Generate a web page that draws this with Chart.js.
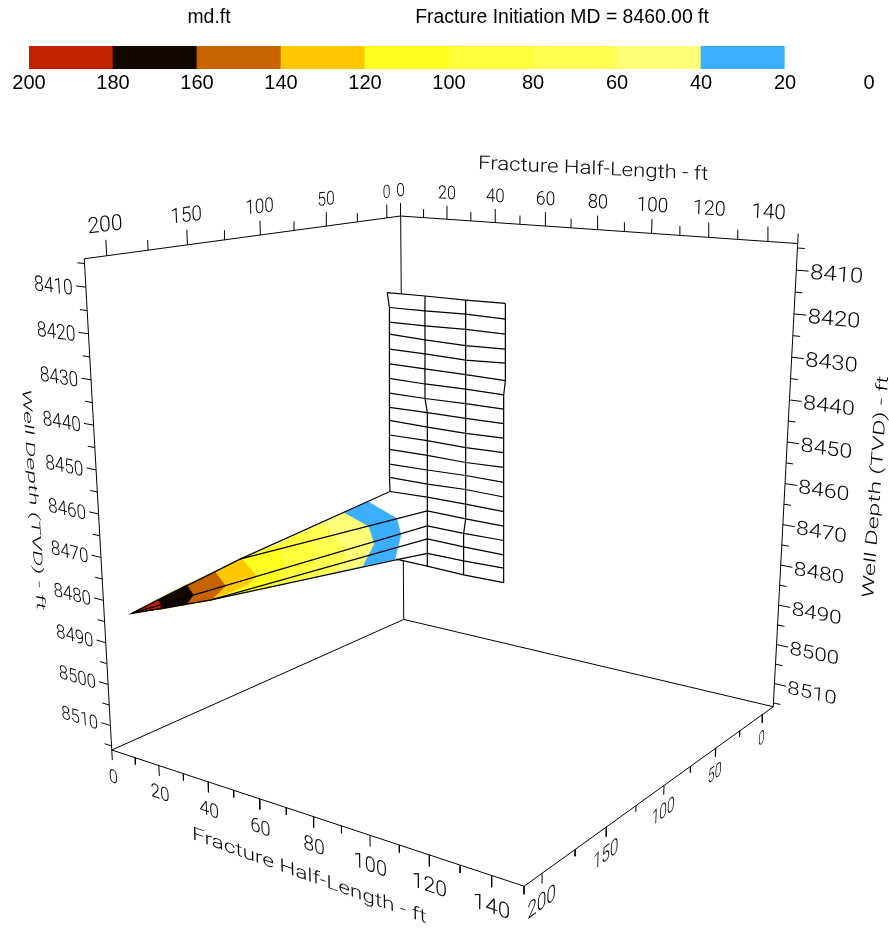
<!DOCTYPE html>
<html>
<head>
<meta charset="utf-8">
<title>Fracture width</title>
<script src="https://cdn.jsdelivr.net/npm/chart.js@4"></script>
<style>
    body { margin: 0; background: #fff; }
    canvas { position: absolute; left: 0; top: 0; }
</style>
</head>
<body>
<canvas id="box" width="889" height="929"></canvas>
<canvas id="legend" width="889" height="100"></canvas>
<script>
// colour legend, low to high
const bandValues = [20, 20, 20, 20, 20, 20, 20, 20, 20, 20];
const bandColors = ['#FFFFFF', '#3CAEFF', '#FFFF78', '#FFFF50', '#FFFF3C', '#FFFF1E', '#FFC800', '#C86400', '#130800', '#C12200'];

// axes, in feet
const halfLengthRange = [0, 150];
const widthRange = [-12, 213];
const depthRange = [8404, 8516];
const halfLengthMajor = [0, 20, 40, 60, 80, 100, 120, 140];
const halfLengthMinor = [10, 30, 50, 70, 90, 110, 130, 150];
const widthMajor = [0, 50, 100, 150, 200];
const widthMinor = [25, 75, 125, 175];
const depthMajor = [8410, 8420, 8430, 8440, 8450, 8460, 8470, 8480, 8490, 8500, 8510];
const depthMinor = [8405, 8415, 8425, 8435, 8445, 8455, 8465, 8475, 8485, 8495, 8505, 8515];

// fracture mesh, one list per column of the grid, top row first
const meshHalfLengths = [
    [-0.2, 0.7, 0.6, 0.6, 0.6, 0.5, 0.4, 0.4, 0.3, 0.2, 0.2, 0.1, 0.1, 0, 1.2, -1.2, -2.9, -5.4, 12.7, 12.7],
    [16.3, 16.2, 16.2, 16.2, 16.2, 16.1, 16.1, 16.1, 17.1, 17.1, 17, 17, 17, 17, 16.9, 16.9, 16.9, 16.9, 16.9, 16.8],
    [33.4, 33.5, 33.5, 33.5, 33.5, 33.5, 33.5, 33.5, 33.6, 33.6, 33.6, 33.6, 33.6, 33.6, 33.6, 33.7, 32.8, 32.8, 32.8, 32.8],
    [49.7, 49.7, 49.8, 49.8, 49.9, 49.9, 49.3, 49.3, 49.4, 49.4, 49.5, 49.5, 49.6, 49.6, 49.7, 49.7, 49.8, 49.8, 49.9, 49.9]
];
const meshDepths = [
    [8423.5, 8427.4, 8431.3, 8434.5, 8438.5, 8442.5, 8446.4, 8450.4, 8454.3, 8457.9, 8461.9, 8465.9, 8470, 8473.7, 8477.3, 8482.1, 8486.4, 8491.2, 8492.9, 8492.7],
    [8423.4, 8427.3, 8431.2, 8434.9, 8438.6, 8442.6, 8446.6, 8450.5, 8454.2, 8458.1, 8461.8, 8465.8, 8469.8, 8473.7, 8477.3, 8481.1, 8485.3, 8488.9, 8493, 8496.6],
    [8423.4, 8427, 8430.9, 8435.1, 8438.9, 8442.7, 8446.5, 8450.3, 8454.2, 8458.2, 8462, 8466, 8469.5, 8473.3, 8477.3, 8481.3, 8485.4, 8489.1, 8493, 8496.9],
    [8423.2, 8427.2, 8431, 8434.8, 8438.4, 8442.9, 8446.6, 8450.3, 8454.1, 8457.9, 8461.7, 8465.6, 8469.6, 8473.5, 8477.4, 8481.3, 8485.2, 8489.1, 8492.7, 8496.7]
];
const firstColumnWidths = [0, 0, 0, 0, 0, 0, 0, 0, 0, 0, 0, 0, 0, 0, 2, 120, 192, 135, 20, 20];

// where the width reaches each colour level on the wing, top edge to bottom edge
const frontLevels = [20, 40, 60, 80, 100, 120, 140, 160, 180];
const frontHalfLengths = [
    [0.5, 13.2, 15, 12.2],
    [-0.3, 10.8, 13.2, 8],
    [1.2, 10.9, 10.8, 6.3],
    [2.2, 8.6, 7.8, 4.7],
    [3.2, 6.6, 4.3, -1.8],
    [-0.5, 5.9, 1.4, -12.3],
    [0, 4.4, -2.3],
    [0.2, 2.9, -0.2],
    [0.3, 2.1, 1]
];
const frontDepths = [
    [8478.3, 8481.4, 8485.7, 8492.8],
    [8479.1, 8481.6, 8486, 8492.7],
    [8479.6, 8485.1, 8487.8, 8492],
    [8479.8, 8483.8, 8487, 8491.4],
    [8480.3, 8485.5, 8488.4, 8492.3],
    [8482, 8485.6, 8488.4, 8493.8],
    [8482.6, 8485.6, 8490.2],
    [8483.3, 8485.4, 8488.2],
    [8484.3, 8485.3, 8486.5]
];
const wingTip = [-2.9, 192, 8486.4];

// perspective camera fitted to the box corners
const camera = [
    [1.919565, -1.498783, 0.2657388, 386.8023],
    [-0.04672, -0.03598815, 4.013294, 202.3403],
    [-0.0009547399, -0.0008829008, 0.0005890649, 1]
];

function project(p) {
    const v = [p[0], p[1], p[2] - 8400, 1];
    const q = camera.map(r => r[0] * v[0] + r[1] * v[1] + r[2] * v[2] + r[3]);
    return { x: q[0] / q[2], y: q[1] / q[2] };
}

const [L0, L1] = halfLengthRange;
const [W0, W1] = widthRange;
const [D0, D1] = depthRange;

const datasets = [];

function addLine(points, color, width) {
    datasets.push({
        data: points.map(project),
        showLine: true,
        pointRadius: 0,
        borderColor: color || '#000',
        borderWidth: width || 1,
        fill: false,
        order: -datasets.length
    });
}

function addShape(points, color) {
    datasets.push({
        data: points.map(project),
        showLine: true,
        pointRadius: 0,
        borderColor: color,
        borderWidth: 0.5,
        backgroundColor: color,
        fill: 'shape',
        order: -datasets.length
    });
}

// short strokes separated by gaps, so one axis needs one dataset only
function addTicks(values, base, offset) {
    const points = [];
    values.forEach(v => {
        const a = base(v);
        points.push(a, a.map((c, i) => c + offset[i]), [NaN, NaN, NaN]);
    });
    datasets.push({
        data: points.map(project),
        showLine: true,
        pointRadius: 0,
        borderColor: '#000',
        borderWidth: 1,
        spanGaps: false,
        order: -datasets.length
    });
}

// box
addLine([[L0, W1, D0], [L0, W0, D0], [L1, W0, D0]]);
addLine([[L0, W1, D0], [L0, W1, D1], [L1, W1, D1], [L1, W0, D1], [L1, W0, D0]]);
addLine([[L0, W1, D1], [L0, W0, D1], [L1, W0, D1]]);
addLine([[L0, W0, D0], [L0, W0, D1]]);

// ticks
addTicks(halfLengthMajor, v => [v, W0, D0], [0, 0, -3.4]);
addTicks(halfLengthMinor, v => [v, W0, D0], [0, 0, -2.2]);
addTicks(widthMajor, v => [L0, v, D0], [0, 0, -3.4]);
addTicks(widthMinor, v => [L0, v, D0], [0, 0, -2.2]);
addTicks(halfLengthMajor, v => [v, W1, D1], [0, 0, 2.5]);
addTicks(halfLengthMinor, v => [v, W1, D1], [0, 0, 1.7]);
addTicks(widthMajor, v => [L1, v, D1], [0, 0, 2.2]);
addTicks(widthMinor, v => [L1, v, D1], [0, 0, 1.5]);
addTicks(depthMajor, v => [L0, W1, v], [-4, 0, 0]);
addTicks(depthMinor, v => [L0, W1, v], [-3, 0, 0]);
addTicks(depthMajor, v => [L1, W0, v], [4, 0, 0]);
addTicks(depthMinor, v => [L1, W0, v], [2.4, 0, 0]);

// mesh points
const meshColumns = meshHalfLengths.map((col, c) =>
    col.map((l, r) => [l, c === 0 ? firstColumnWidths[r] : 0, meshDepths[c][r]]));
const lastColumn = meshColumns.length - 1;
const lastRow = meshColumns[0].length - 1;

// the surface hides what is behind it
addShape([
    ...meshColumns.map(col => col[0]),
    ...meshColumns[lastColumn],
    ...meshColumns.map(col => col[lastRow]).reverse(),
    ...meshColumns[0].slice().reverse()
], '#FFFFFF');

// colour bands on the wing, each one painted over the one below
const fronts = frontLevels.map((level, k) =>
    frontHalfLengths[k].map((l, i) => [l, level, frontDepths[k][i]]));

fronts.forEach((front, k) => {
    const higher = fronts.slice(k + 1);
    addShape([
        wingTip,
        ...higher.map(f => f[0]).reverse(),
        ...front,
        ...higher.map(f => f[f.length - 1])
    ], bandColors[k + 1]);
});

// mesh lines
meshColumns.forEach(col => addLine(col, '#000', 1.2));
meshColumns[0].forEach((_, r) => addLine(meshColumns.map(col => col[r]), '#000', 1.2));

// the axis text lies in the planes of the box
const labelFont = '300 100px Roboto';
const capHeight = 71;
const labels = [];

function addLabel(text, at, along, up) {
    labels.push({ text, at, along, up });
}

function shift(p, d, f) {
    return p.map((c, i) => c + d[i] * f);
}

halfLengthMajor.forEach(v => addLabel(String(v), [v, W0, 8398.8], [3.8 * String(v).length, 0, 0], [0, 0, -3.3]));
widthMajor.forEach(v => addLabel(String(v), [L0, v, 8398.8], [0, -6.8 * String(v).length, 0], [0, 0, -3.3]));
halfLengthMajor.forEach(v => addLabel(String(v), [v, W1, D1 + 8.1], [3.9 * String(v).length, 0, 0], [0, 0, -3.3]));
widthMajor.forEach(v => addLabel(String(v), [L1, v, D1 + 7.7], [0, -7 * String(v).length, 0], [0, 0, -3.5]));
depthMajor.forEach(v => addLabel(String(v), [-13.5, W1, v + 2], [16.4, 0, 0], [0, 0, -3.3]));
depthMajor.forEach(v => addLabel(String(v), [163, W0, v + 1.7], [16.8, 0, 0], [0, 0, -3.3]));

addLabel('Fracture Half-Length - ft', [78, W0, 8390.8], [86, 0, 0], [0, 0, -3.2]);
addLabel('Fracture Half-Length - ft', [78, W1, D1 + 15.3], [86, 0, 0], [0, 0, -3]);
addLabel('Well Depth (TVD) - ft', [-30, W1, 8460], [0, 0, 52], [4, 0, 0]);
addLabel('Well Depth (TVD) - ft', [181, W0, 8457.5], [0, 0, -52], [-3.6, 0, 0]);

const boxLabels = {
    id: 'boxLabels',
    afterDatasetsDraw(chart) {
        const ctx = chart.ctx;
        ctx.font = labelFont;
        ctx.textAlign = 'center';
        ctx.textBaseline = 'alphabetic';
        ctx.fillStyle = '#000';
        labels.forEach(l => {
            const o = project(l.at);
            const a = project(shift(l.at, l.along, -0.5));
            const b = project(shift(l.at, l.along, 0.5));
            const u = project(shift(l.at, l.up, 1));
            const w = ctx.measureText(l.text).width;
            ctx.save();
            ctx.transform((b.x - a.x) / w, (b.y - a.y) / w, (o.x - u.x) / capHeight, (o.y - u.y) / capHeight, o.x, o.y);
            ctx.fillText(l.text, 0, 0);
            ctx.restore();
        });
    }
};

new Chart(document.getElementById('box').getContext('2d'), {
    type: 'scatter',
    data: { datasets },
    options: {
        responsive: false,
        animation: false,
        layout: { padding: 0 },
        scales: {
            x: { type: 'linear', display: false, min: 0, max: 889 },
            y: { type: 'linear', display: false, min: 0, max: 929, reverse: true }
        },
        plugins: { legend: { display: false }, tooltip: { enabled: false } }
    },
    plugins: [boxLabels]
});

const legendTitles = {
    id: 'legendTitles',
    afterDraw(chart) {
        const ctx = chart.ctx;
        ctx.save();
        ctx.font = '19.4px "Liberation Sans"';
        ctx.textAlign = 'center';
        ctx.textBaseline = 'middle';
        ctx.fillStyle = '#000';
        ctx.fillText('md.ft', 209, 18);
        ctx.fillText('Fracture Initiation MD = 8460.00 ft', 562, 18);
        ctx.restore();
    }
};

new Chart(document.getElementById('legend').getContext('2d'), {
    type: 'bar',
    data: {
        labels: ['md.ft'],
        datasets: bandValues.map((v, i) => ({
            data: [v],
            backgroundColor: bandColors[i],
            borderWidth: 0,
            barPercentage: 1,
            categoryPercentage: 1
        }))
    },
    options: {
        indexAxis: 'y',
        responsive: false,
        animation: false,
        layout: { padding: { left: 29, right: 20, top: 46, bottom: 0 } },
        scales: {
            x: {
                stacked: true,
                reverse: true,
                min: 0,
                max: 200,
                grid: { display: false, drawTicks: false },
                border: { display: false },
                afterFit(scale) { scale.height = 31; },
                ticks: {
                    stepSize: 20,
                    maxRotation: 0,
                    autoSkip: false,
                    padding: 2,
                    color: '#000',
                    font: { family: '"Liberation Sans"', size: 20 }
                }
            },
            y: { stacked: true, display: false }
        },
        plugins: { legend: { display: false }, tooltip: { enabled: false } }
    },
    plugins: [legendTitles]
});
</script>
</body>
</html>
